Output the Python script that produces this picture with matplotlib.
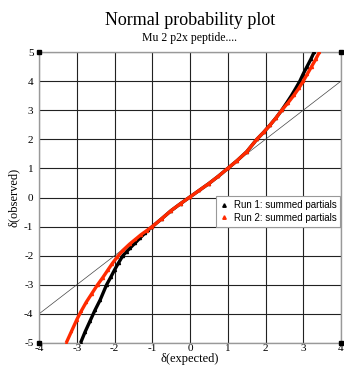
import matplotlib
matplotlib.use("Agg")
import matplotlib.pyplot as plt

plt.rcParams["axes.unicode_minus"] = False

# Expected vs observed normal scores for the two runs
run1_expected = [-2.90, -2.78, -2.65, -2.52, -2.38, -2.21, -2.10, -2.00, -1.89, -1.78,
                 -1.68, -1.59, -1.46, -1.33, -1.20, -1.10, -1.00, -0.75, -0.50, -0.25,
                 0.00, 0.25, 0.50, 0.75, 1.00, 1.25, 1.50, 1.77, 1.95, 2.12,
                 2.28, 2.43, 2.56, 2.69, 2.80, 2.91, 3.00, 3.10, 3.20, 3.29]
run1_observed = [-5.00, -4.62, -4.25, -3.88, -3.52, -3.00, -2.74, -2.49, -2.24, -2.00,
                 -1.86, -1.74, -1.57, -1.40, -1.23, -1.11, -1.00, -0.73, -0.45, -0.21,
                 0.02, 0.25, 0.48, 0.73, 1.00, 1.27, 1.57, 2.00, 2.24, 2.49,
                 2.74, 3.00, 3.25, 3.51, 3.75, 4.00, 4.25, 4.50, 4.75, 5.00]

run2_expected = [-3.28, -3.14, -3.00, -2.88, -2.75, -2.60, -2.45, -2.31, -2.18, -2.06,
                 -1.93, -1.78, -1.60, -1.45, -1.30, -1.15, -1.00, -0.75, -0.50, -0.25,
                 0.00, 0.25, 0.50, 0.75, 1.00, 1.25, 1.50, 1.77, 1.95, 2.12,
                 2.28, 2.43, 2.60, 2.75, 2.88, 3.00, 3.11, 3.22, 3.33, 3.43]
run2_observed = [-5.00, -4.60, -4.20, -3.90, -3.60, -3.30, -3.00, -2.75, -2.50, -2.27,
                 -2.05, -1.82, -1.60, -1.44, -1.28, -1.14, -1.00, -0.73, -0.45, -0.21,
                 0.02, 0.25, 0.48, 0.73, 1.00, 1.27, 1.57, 2.00, 2.24, 2.49,
                 2.74, 3.00, 3.26, 3.51, 3.75, 4.00, 4.25, 4.50, 4.75, 5.00]

x_ticks = [-4, -3, -2, -1, 0, 1, 2, 3, 4]
y_ticks = [-5, -4, -3, -2, -1, 0, 1, 2, 3, 4, 5]

serif = "Liberation Serif"
sans = "Liberation Sans"
red = "#ff2a00"

fig = plt.figure(figsize=(3.44, 3.71), dpi=100)
ax = fig.add_axes([0.1134, 0.0755, 0.8779, 0.7843])
ax.set_xlim(-4, 4)
ax.set_ylim(-5, 5)

# grid
for xv in x_ticks:
    ax.axvline(xv, color="#222222", lw=0.8, zorder=1)
for yv in y_ticks:
    ax.axhline(yv, color="#222222", lw=0.8, zorder=1)

# reference line y = x
ax.plot([-4, 4], [-4, 4], color="#444444", lw=0.5, zorder=2)

ax.plot(run1_expected, run1_observed, color="black", lw=2.4, marker="^",
        ms=1.5, zorder=3, solid_capstyle="butt", solid_joinstyle="round")
ax.plot(run2_expected, run2_observed, color=red, lw=2.4, marker="^",
        ms=1.5, zorder=4, solid_capstyle="butt", solid_joinstyle="round")

# legend entries
h1, = ax.plot([], [], ls="none", marker="^", ms=2.5, color="black",
              label="Run 1: summed partials")
h2, = ax.plot([], [], ls="none", marker="^", ms=2.5, color=red,
              label="Run 2: summed partials")
leg = ax.legend(handles=[h1, h2], loc="upper right", bbox_to_anchor=(0.998, 0.505),
                prop={"family": sans, "size": 7}, fancybox=False, framealpha=1,
                edgecolor="#999999", borderpad=0.4, handlelength=0.8,
                handletextpad=0.6, labelspacing=0.3, borderaxespad=0.0)
leg.get_frame().set_linewidth(0.8)
leg.set_zorder(10)

# corner markers
for cx, cy in [(-4, -5), (-4, 5), (4, -5), (4, 5)]:
    ax.plot([cx], [cy], marker="s", ms=3.5, color="black", clip_on=False, zorder=6)

for s in ax.spines.values():
    s.set_color("#999999")
    s.set_linewidth(1.0)

ax.set_xticks(x_ticks)
ax.set_yticks(y_ticks)
ax.tick_params(axis="x", length=0, pad=1, labelsize=8)
ax.tick_params(axis="y", length=0, pad=4, labelsize=8)
for lab in ax.get_xticklabels() + ax.get_yticklabels():
    lab.set_fontfamily(serif)

ax.set_xlabel("δ(expected)", fontfamily=serif, fontsize=9, labelpad=0)
ax.set_ylabel("δ(observed)", fontfamily=serif, fontsize=9, labelpad=3)

title_x = 190 / 344
fig.text(title_x, 0.945, "Normal probability plot", ha="center", va="center",
         fontfamily=serif, fontsize=13)
fig.text(title_x, 0.897, "Mu 2 p2x peptide....", ha="center", va="center",
         fontfamily=serif, fontsize=8.5)

fig.savefig("out.png", dpi=100)
